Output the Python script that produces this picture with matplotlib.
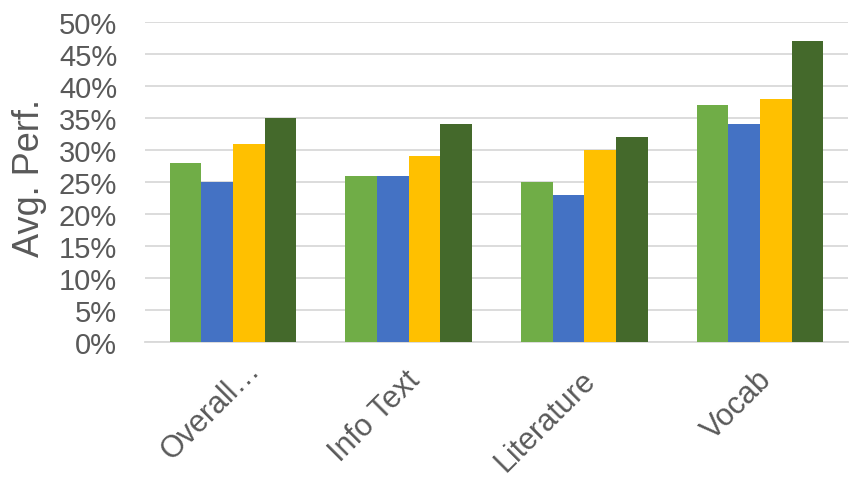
import matplotlib.pyplot as plt
import matplotlib.transforms as mtransforms
import numpy as np
from matplotlib.ticker import MultipleLocator, PercentFormatter

plt.rcParams['font.family'] = ['Liberation Sans', 'DejaVu Sans']

categories = ["Overall…", "Info Text", "Literature", "Vocab"]
series_a = [0.28, 0.26, 0.25, 0.37]
series_b = [0.25, 0.26, 0.23, 0.34]
series_c = [0.31, 0.29, 0.30, 0.38]
series_d = [0.35, 0.34, 0.32, 0.47]

colors = ["#70AD47", "#4472C4", "#FFC000", "#44692B"]
text_gray = "#595959"

fig = plt.figure(figsize=(8.5, 4.81), dpi=100)
ax = fig.add_axes([145 / 850, 1 - 343 / 481, 703 / 850, 320 / 481])

x = np.arange(len(categories))
width = 0.18
all_series = [series_a, series_b, series_c, series_d]
for i, (vals, col) in enumerate(zip(all_series, colors)):
    ax.bar(x + (i - 1.5) * width, vals, width, color=col, zorder=3)

ax.set_xlim(-0.5, len(categories) - 0.5)
ax.set_ylim(0, 0.5)
ax.yaxis.set_major_locator(MultipleLocator(0.05))
ax.yaxis.set_major_formatter(PercentFormatter(1.0, decimals=0))
ax.grid(axis="y", color="#D9D9D9", linewidth=1.3, zorder=0)
ax.set_axisbelow(True)

for side in ["top", "right", "left"]:
    ax.spines[side].set_visible(False)
ax.spines["bottom"].set_color("#D9D9D9")
ax.spines["bottom"].set_linewidth(1.3)

ax.tick_params(axis="y", length=0, pad=20, labelsize=21, labelcolor=text_gray)
ax.tick_params(axis="x", length=0, pad=16, labelsize=22, labelcolor=text_gray)

ax.set_xticks(x)
ax.set_xticklabels(categories, rotation=45, ha="right", va="top",
                   rotation_mode="anchor")
# truncated first label sits a bit higher and further right
offsets = [(12, 10), (-4, 0), (-4, 0), (-4, 0)]
for lbl, (dx, dy) in zip(ax.get_xticklabels(), offsets):
    shift = mtransforms.ScaledTranslation(dx / 100, dy / 100, fig.dpi_scale_trans)
    lbl.set_transform(lbl.get_transform() + shift)

ax.set_ylabel("Avg. Perf.", fontsize=26, color=text_gray, va="center")
ax.yaxis.set_label_coords(-0.164, 0.516)

fig.savefig("out.png", dpi=100)
